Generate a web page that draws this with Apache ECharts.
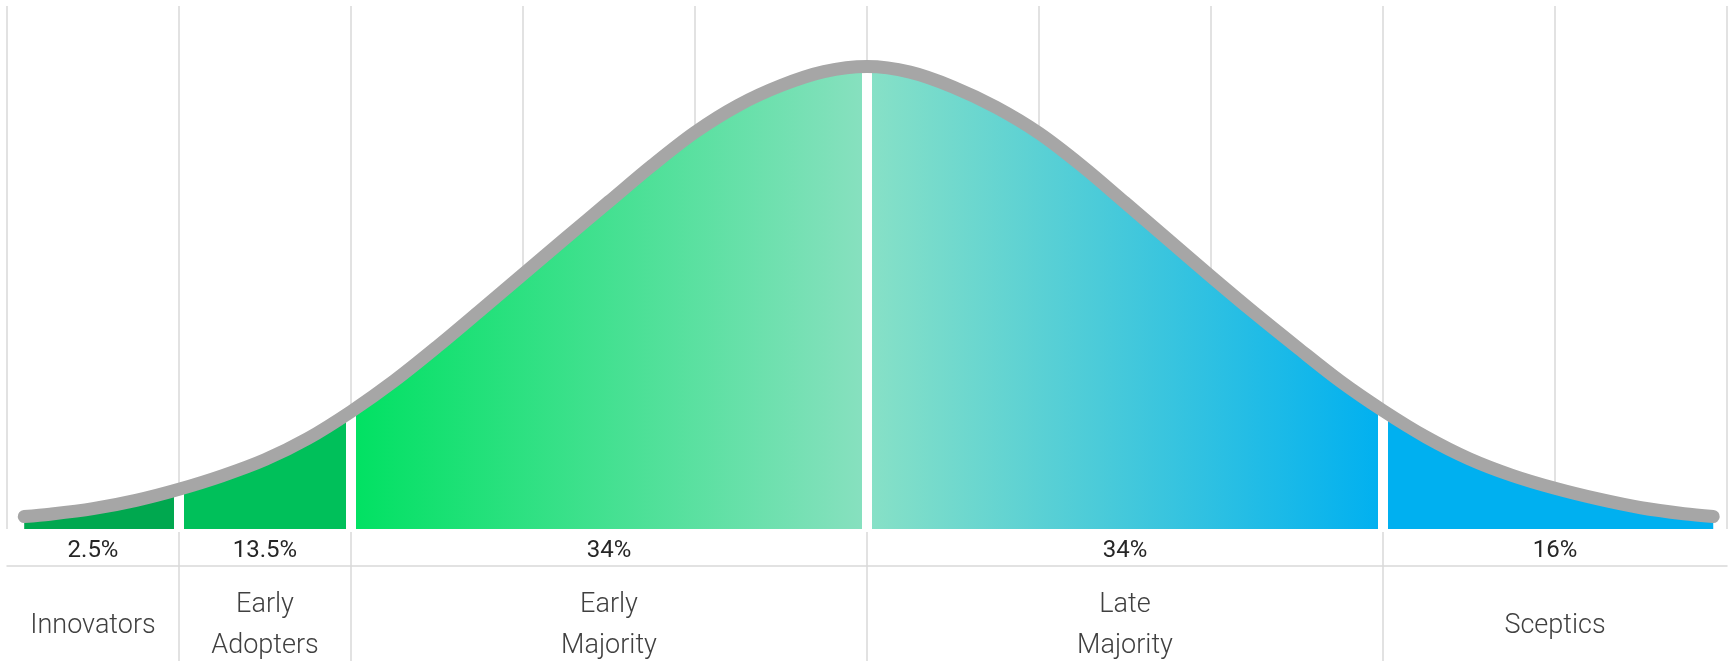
<!DOCTYPE html>
<html>
<head>
<meta charset="utf-8">
<style>
  html, body { margin: 0; padding: 0; background: #ffffff; }
  #chart { width: 1729px; height: 661px; }
</style>
<script src="https://cdn.jsdelivr.net/npm/echarts@6/dist/echarts.min.js"></script>
</head>
<body>
<div id="chart"></div>
<script>
// ---- data ----
const segmentNames = ['Innovators', 'Early\nAdopters', 'Early\nMajority', 'Late\nMajority', 'Sceptics'];
const segmentShares = ['2.5%', '13.5%', '34%', '34%', '16%'];
const segmentEdges = [0, 1, 2, 5, 8, 10];          // x positions where segments start/end
const gapEdges = [1, 2, 5, 8];                       // white gaps between segments
const curveX = [0.1, 0.25, 0.5, 0.75, 1, 1.25, 1.5, 1.75, 2, 2.25, 2.5, 2.75, 3, 3.25, 3.5, 3.75, 4, 4.25, 4.5, 4.75, 5,
                5.25, 5.5, 5.75, 6, 6.25, 6.5, 6.75, 7, 7.25, 7.5, 7.75, 8, 8.25, 8.5, 8.75, 9, 9.25, 9.5, 9.75, 9.92];
const curveY = [2.7, 3.2, 4.4, 6.2, 8.6, 11.5, 15.0, 19.6, 25.4, 32.0, 39.4, 47.2, 55.1, 63.0, 70.8, 78.6, 85.8, 91.6, 95.9, 98.9, 100,
                98.8, 95.6, 91.2, 85.6, 78.5, 70.6, 62.6, 54.6, 46.8, 39.3, 32.0, 25.6, 19.9, 15.2, 11.6, 8.8, 6.5, 4.6, 3.3, 2.7];

// ---- styles ----
const fills = [
  '#00a84f',
  '#00c05a',
  new echarts.graphic.LinearGradient(0, 0, 1, 0, [{offset: 0, color: '#00e162'}, {offset: 1, color: '#88e0c0'}]),
  new echarts.graphic.LinearGradient(0, 0, 1, 0, [{offset: 0, color: '#88e1c6'}, {offset: 1, color: '#00b0f0'}]),
  '#00b0f0'
];
const gridColor = '#d9d9d9';
const smoothness = 0.33;

const curve = curveX.map((x, i) => [x, curveY[i]]);
const centers = segmentNames.map((_, i) => (segmentEdges[i] + segmentEdges[i + 1]) / 2);
function valueAt(x) { return curveY[curveX.indexOf(x)]; }

const fillSeries = segmentNames.map((name, i) => ({
  type: 'line',
  name: name,
  smooth: smoothness,
  symbol: 'none',
  z: 2,
  silent: true,
  lineStyle: { width: 0 },
  areaStyle: { color: fills[i], opacity: 1 },
  data: curve.filter(p => p[0] >= segmentEdges[i] && p[0] <= segmentEdges[i + 1])
}));

const baseX = { type: 'value', min: 0, max: 10, gridIndex: 0, position: 'bottom',
  splitLine: { show: false }, axisLine: { show: false }, axisTick: { show: false }, axisLabel: { show: false } };

const option = {
  backgroundColor: '#ffffff',
  animation: false,
  grid: { left: 7, right: 2, top: 6, bottom: 132, containLabel: false, outerBoundsMode: 'none' },
  xAxis: [
    Object.assign({}, baseX, { interval: 1, splitLine: { show: true, lineStyle: { color: gridColor, width: 1.5 } } }),
    Object.assign({}, baseX, { offset: 3, axisTick: { show: true, customValues: gapEdges, length: 129, lineStyle: { color: gridColor, width: 1.5 } } }),
    Object.assign({}, baseX, { offset: 37, axisLine: { show: true, lineStyle: { color: gridColor, width: 1.5 } } }),
    Object.assign({}, baseX, { offset: 22, axisLabel: { show: true, customValues: centers, margin: 0, verticalAlign: 'middle',
      fontFamily: 'Roboto', fontSize: 24, color: '#262626',
      formatter: v => segmentShares[centers.indexOf(v)] } }),
    Object.assign({}, baseX, { offset: 97, axisLabel: { show: true, customValues: centers, margin: 0, verticalAlign: 'middle',
      fontFamily: 'Roboto', fontWeight: 300, fontSize: 27, lineHeight: 41, color: '#404040',
      formatter: v => segmentNames[centers.indexOf(v)] } })
  ],
  yAxis: { type: 'value', min: 0, max: 113.1, show: false, splitLine: { show: false } },
  series: fillSeries.concat([
    {
      type: 'bar',
      silent: true,
      z: 3,
      barWidth: 10,
      itemStyle: { color: '#ffffff' },
      data: gapEdges.map(x => [x, valueAt(x)])
    },
    {
      type: 'line',
      smooth: smoothness,
      symbol: 'none',
      silent: true,
      z: 4,
      lineStyle: { color: '#a6a6a6', width: 13, cap: 'round', join: 'round' },
      data: curve
    }
  ])
};

const chart = echarts.init(document.getElementById('chart'), null, { renderer: 'canvas' });
chart.setOption(option);
</script>
</body>
</html>
